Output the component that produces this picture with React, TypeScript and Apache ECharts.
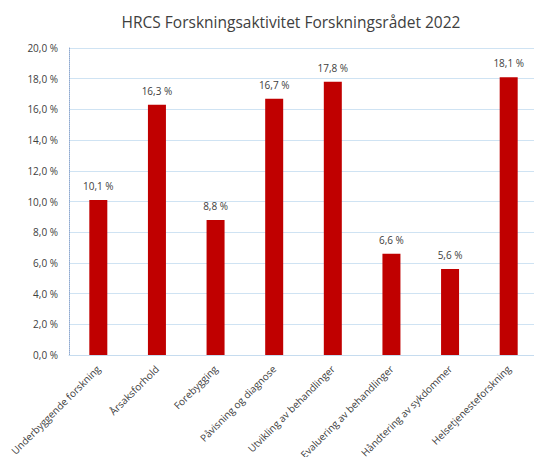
import React, { useEffect, useRef } from "react";
import * as echarts from "echarts";

const categories = [
  "Underbyggende forskning",
  "Årsaksforhold",
  "Forebygging",
  "Påvisning og diagnose",
  "Utvikling av behandlinger",
  "Evaluering av behandlinger",
  "Håndtering av sykdommer",
  "Helsetjenesteforskning",
];
const values = [10.1, 16.3, 8.8, 16.7, 17.8, 6.6, 5.6, 18.1];
const yTicks = { min: 0, max: 20, interval: 2 };
const title = "HRCS Forskningsaktivitet Forskningsrådet 2022";

const fmt = (v: number) => v.toFixed(1).replace(".", ",") + " %";

export default function App() {
  const ref = useRef<HTMLDivElement>(null);
  useEffect(() => {
    if (!ref.current) return;
    const chart = echarts.init(ref.current, null, { renderer: "svg" });
    const font = "'Open Sans', 'Noto Sans', sans-serif";
    chart.setOption({
      animation: false,
      backgroundColor: "#ffffff",
      title: {
        text: title,
        left: 286,
        textAlign: "center",
        top: 9,
        textStyle: { fontFamily: font, fontSize: 15.5, fontWeight: "normal", color: "#404040" },
      },
      grid: {
        left: 69,
        right: -4,
        top: 48,
        bottom: 102,
        containLabel: false,
        outerBoundsMode: "none",
      },
      xAxis: {
        type: "category",
        data: categories,
        axisLine: { show: true, lineStyle: { color: "#c6dcef" } },
        axisTick: { show: false },
        axisLabel: {
          interval: 0,
          rotate: 45,
          margin: 12,
          fontFamily: font,
          fontSize: 10,
          color: "#404040",
        },
      },
      yAxis: {
        type: "value",
        min: yTicks.min,
        max: yTicks.max,
        interval: yTicks.interval,
        axisLine: { show: true, lineStyle: { color: "#8ea9d0", type: "dotted" } },
        axisTick: { show: false },
        splitLine: { lineStyle: { color: "#cfe3f3", width: 1 } },
        axisLabel: {
          formatter: (v: number) => fmt(v),
          fontFamily: font,
          fontSize: 10,
          color: "#404040",
          margin: 11,
        },
      },
      series: [
        {
          type: "bar",
          data: values,
          barWidth: 18,
          itemStyle: { color: "#c00000" },
          label: {
            show: true,
            position: "top",
            distance: 9,
            formatter: (p: any) => fmt(p.value),
            fontFamily: font,
            fontSize: 10,
            color: "#404040",
          },
        },
      ],
    });
    return () => chart.dispose();
  }, []);
  return (
    <div
      ref={ref}
      style={{ position: "absolute", left: 0, top: 0, width: 534, height: 457 }}
    />
  );
}
